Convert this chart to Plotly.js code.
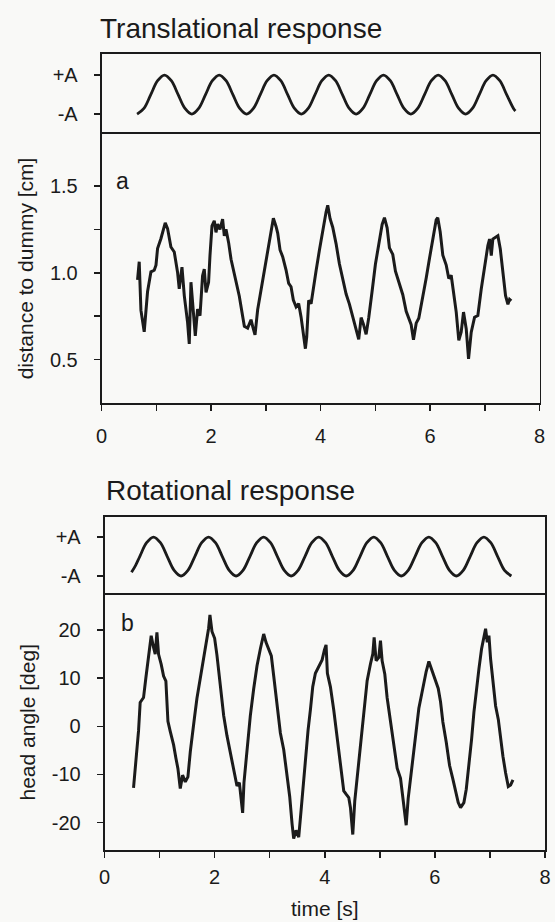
<!DOCTYPE html>
<html><head><meta charset="utf-8">
<script src="https://cdn.plot.ly/plotly-3.0.1.min.js"></script>
<style>html,body{margin:0;padding:0;background:#f9f9f7}#chart{width:555px;height:922px}</style>
</head><body><div id="chart"></div>
<script>
// ---- stimulus (translational) ----
const stimTimeA = [0.65,0.775,0.9,1.025,1.15,1.275,1.4,1.525,
  1.65,1.775,1.9,2.025,2.15,2.275,2.4,2.525,
  2.65,2.775,2.9,3.025,3.15,3.275,3.4,3.525,
  3.65,3.775,3.9,4.025,4.15,4.275,4.4,4.525,
  4.65,4.775,4.9,5.025,5.15,5.275,5.4,5.525,
  5.65,5.775,5.9,6.025,6.15,6.275,6.4,6.525,
  6.65,6.775,6.9,7.025,7.15,7.275,7.4,7.525,7.56];
const stimValA = [-1,-0.71,0,0.71,1,0.71,0,-0.71,
  -1,-0.71,0,0.71,1,0.71,0,-0.71,
  -1,-0.71,0,0.71,1,0.71,0,-0.71,
  -1,-0.71,0,0.71,1,0.71,0,-0.71,
  -1,-0.71,0,0.71,1,0.71,0,-0.71,
  -1,-0.71,0,0.71,1,0.71,0,-0.71,
  -1,-0.71,0,0.71,1,0.71,0,-0.71,-0.84];

// ---- response a: distance to dummy [cm] ----
const timeA = [0.658,0.689,0.720,0.780,0.841,0.903,0.963,0.995,1.024,1.086,
  1.164,1.207,1.268,1.329,1.389,1.420,1.470,1.512,1.572,1.603,
  1.634,1.676,1.713,1.755,1.799,1.846,1.877,1.909,1.956,1.981,
  2.018,2.060,2.091,2.121,2.164,2.212,2.243,2.274,2.322,2.366,
  2.408,2.457,2.517,2.578,2.609,2.669,2.731,2.761,2.804,2.852,
  2.914,2.974,3.035,3.097,3.139,3.188,3.218,3.261,3.309,3.371,
  3.419,3.462,3.504,3.554,3.601,3.645,3.687,3.724,3.748,3.784,
  3.828,3.870,3.920,3.980,4.041,4.102,4.132,4.175,4.223,4.285,
  4.345,4.406,4.468,4.528,4.589,4.651,4.698,4.742,4.784,4.833,
  4.881,4.943,5.003,5.064,5.126,5.168,5.217,5.259,5.320,5.369,
  5.430,5.503,5.565,5.613,5.656,5.698,5.748,5.795,5.868,5.930,
  5.991,6.051,6.113,6.142,6.186,6.234,6.296,6.343,6.387,6.429,
  6.479,6.526,6.570,6.612,6.662,6.704,6.753,6.814,6.874,6.936,
  6.996,7.057,7.088,7.119,7.148,7.198,7.240,7.284,7.331,7.380,
  7.423,7.453,7.484];
const distA = [0.959,1.064,0.785,0.660,0.891,1.006,1.015,1.044,1.140,1.198,
  1.288,1.255,1.149,1.120,1.004,0.908,1.033,0.869,0.715,0.590,
  0.946,0.753,0.637,0.791,0.753,0.983,1.022,0.887,0.945,1.098,
  1.271,1.300,1.233,1.281,1.251,1.309,1.213,1.251,1.174,1.078,
  1.020,0.962,0.865,0.750,0.692,0.682,0.730,0.691,0.643,0.787,
  0.903,1.018,1.133,1.248,1.315,1.267,1.229,1.132,1.093,1.016,
  0.939,0.920,0.843,0.804,0.823,0.746,0.650,0.563,0.630,0.842,
  0.822,0.918,1.014,1.130,1.245,1.350,1.389,1.312,1.263,1.167,
  1.052,0.974,0.878,0.820,0.752,0.685,0.617,0.742,0.704,0.646,
  0.741,0.895,1.049,1.164,1.279,1.318,1.259,1.144,1.106,1.009,
  0.951,0.874,0.778,0.730,0.701,0.614,0.710,0.738,0.853,0.969,
  1.084,1.199,1.305,1.318,1.237,1.102,1.045,0.967,0.986,0.890,
  0.774,0.611,0.659,0.774,0.677,0.504,0.658,0.744,0.754,0.907,
  1.042,1.157,1.195,1.099,1.195,1.205,1.214,1.137,1.002,0.868,
  0.819,0.847,0.838];

// ---- stimulus (rotational) ----
const stimTimeB = [0.49,0.565,
  0.64,0.765,0.89,1.015,1.14,1.265,1.39,1.515,
  1.64,1.765,1.89,2.015,2.14,2.265,2.39,2.515,
  2.64,2.765,2.89,3.015,3.14,3.265,3.39,3.515,
  3.64,3.765,3.89,4.015,4.14,4.265,4.39,4.515,
  4.64,4.765,4.89,5.015,5.14,5.265,5.39,5.515,
  5.64,5.765,5.89,6.015,6.14,6.265,6.39,6.515,
  6.64,6.765,6.89,7.015,7.14,7.265,7.39];
const stimValB = [-0.81,-0.45,
  0,0.71,1,0.71,0,-0.71,-1,-0.71,
  0,0.71,1,0.71,0,-0.71,-1,-0.71,
  0,0.71,1,0.71,0,-0.71,-1,-0.71,
  0,0.71,1,0.71,0,-0.71,-1,-0.71,
  0,0.71,1,0.71,0,-0.71,-1,-0.71,
  0,0.71,1,0.71,0,-0.71,-1,-0.71,
  0,0.71,1,0.71,0,-0.71,-1];

// ---- response b: head angle [deg] ----
const timeB = [0.527,0.570,0.618,0.648,0.709,0.752,0.800,0.848,0.891,0.921,
  0.952,0.982,1.030,1.073,1.115,1.152,1.194,1.255,1.297,1.333,
  1.376,1.418,1.467,1.515,1.558,1.600,1.636,1.679,1.739,1.800,
  1.842,1.891,1.915,1.952,2.000,2.042,2.103,2.164,2.224,2.285,
  2.345,2.406,2.449,2.485,2.509,2.533,2.569,2.606,2.648,2.709,
  2.770,2.830,2.891,2.933,2.982,3.030,3.073,3.133,3.194,3.255,
  3.315,3.364,3.406,3.436,3.479,3.527,3.576,3.618,3.661,3.697,
  3.739,3.782,3.830,3.891,3.952,3.994,4.024,4.048,4.103,4.164,
  4.206,4.255,4.303,4.345,4.388,4.436,4.467,4.509,4.545,4.588,
  4.630,4.679,4.727,4.770,4.830,4.873,4.897,4.933,4.982,5.012,
  5.042,5.091,5.133,5.194,5.255,5.315,5.376,5.418,5.455,5.479,
  5.515,5.558,5.600,5.648,5.709,5.758,5.800,5.842,5.891,5.952,
  6.012,6.061,6.103,6.145,6.206,6.267,6.327,6.376,6.424,6.467,
  6.527,6.570,6.618,6.667,6.709,6.752,6.800,6.848,6.891,6.921,
  6.952,6.982,7.012,7.055,7.103,7.152,7.194,7.236,7.285,7.333,
  7.376,7.418];
const angleB = [-12.78,-7.22,-0.96,4.95,5.98,10.15,14.32,18.84,16.39,14.99,
  19.51,14.98,12.88,10.45,9.40,1.04,-1.05,-3.86,-6.64,-8.74,
  -12.92,-10.15,-11.54,-10.50,-5.28,-1.83,2.00,5.82,9.98,14.51,
  17.62,20.40,23.17,19.71,18.29,14.80,8.54,2.25,-1.93,-5.41,
  -8.20,-12.40,-11.69,-15.89,-17.97,-11.71,-7.54,-1.98,2.17,7.75,
  12.59,16.08,19.19,17.45,16.05,14.63,10.46,4.89,-1.38,-4.88,
  -10.46,-14.64,-20.21,-23.35,-21.61,-23.02,-16.76,-11.20,-4.94,-0.77,
  3.39,8.25,11.04,12.41,13.80,15.88,16.92,11.00,8.20,3.33,
  -0.86,-5.04,-9.22,-13.41,-14.11,-14.81,-16.91,-22.48,-15.53,-10.66,
  -5.79,-0.24,4.62,9.49,12.96,15.04,18.51,13.64,14.33,17.80,
  13.62,10.83,5.95,1.07,-3.12,-8.70,-10.79,-14.98,-19.16,-20.55,
  -15.00,-10.83,-5.95,-1.09,3.76,6.55,9.32,11.40,13.48,11.38,
  9.28,7.88,5.09,0.91,-3.27,-8.15,-10.95,-13.74,-15.84,-16.88,
  -15.85,-13.08,-8.21,-2.66,2.91,7.77,11.94,16.10,18.88,20.27,
  17.48,18.87,13.99,9.81,4.24,1.44,-2.75,-6.22,-9.71,-12.50,
  -12.17,-11.13];

// ---- tick labels ----
const timeTicks = [0,1,2,3,4,5,6,7,8];
const timeTickText = ['0','','2','','4','','6','','8'];
const stimTicks = [-1,1];
const stimTickText = ['-A','+A'];
const distTicks = [0.5,0.75,1.0,1.25,1.5];
const distTickText = ['0.5','','1.0','','1.5'];
const angleTicks = [-20,-10,0,10,20];
const angleTickText = ['-20','-10','0','10','20'];

const W = 555, H = 922;
const INK = '#1b1b1b';
const FONT = 'Liberation Sans, Arial, Helvetica, sans-serif';
const px = v => v / W;
const py = v => 1 - v / H;

const lineStyle = {color: INK, width: 3};
const stimStyle = {color: INK, width: 2.8, shape: 'spline'};
const traces = [
  {x: stimTimeA, y: stimValA, xaxis: 'x', yaxis: 'y', mode: 'lines', line: stimStyle},
  {x: timeA, y: distA, xaxis: 'x2', yaxis: 'y2', mode: 'lines', line: lineStyle},
  {x: stimTimeB, y: stimValB, xaxis: 'x3', yaxis: 'y3', mode: 'lines', line: stimStyle},
  {x: timeB, y: angleB, xaxis: 'x4', yaxis: 'y4', mode: 'lines', line: lineStyle}
];

const axBase = {showline: true, mirror: true, linecolor: INK, linewidth: 1.8, showgrid: false, zeroline: false,
  tickfont: {family: FONT, size: 20, color: INK}, tickcolor: INK, tickwidth: 1.5};

const xdomA = [px(101.5), px(539.5)];
const xdomB = [px(104.5), px(545)];

const layout = {
  width: W, height: H,
  margin: {l: 0, r: 0, t: 0, b: 0},
  paper_bgcolor: '#f9f9f7', plot_bgcolor: '#f9f9f7',
  showlegend: false,
  font: {family: FONT, color: INK},
  title: {text: 'Translational response', x: px(100), xanchor: 'left', xref: 'paper',
          y: py(28), yanchor: 'middle', yref: 'container', font: {family: FONT, size: 28, color: INK}},
  // stimulus boxes: x axis drawn on top only; the separator comes from the response box frame
  xaxis: Object.assign({}, axBase, {domain: xdomA, anchor: 'y', side: 'top', mirror: false, range: [0, 8], showticklabels: false, ticks: ''}),
  yaxis: Object.assign({}, axBase, {domain: [py(134), py(54)], anchor: 'x', range: [-2.02, 2.08],
          tickvals: stimTicks, ticktext: stimTickText, ticks: 'outside', ticklen: 6, ticklabelstandoff: 12}),
  xaxis2: Object.assign({}, axBase, {domain: xdomA, anchor: 'y2', range: [0, 8],
          tickvals: timeTicks, ticktext: timeTickText, ticks: 'outside', ticklen: 6, ticklabelstandoff: 8}),
  yaxis2: Object.assign({}, axBase, {domain: [py(403), py(134)], anchor: 'x2', range: [0.25, 1.8],
          tickvals: distTicks, ticktext: distTickText, ticks: 'outside', ticklen: 6, ticklabelstandoff: 12,
          title: {text: 'distance to dummy [cm]', font: {family: FONT, size: 21, color: INK}, standoff: 10}}),
  xaxis3: Object.assign({}, axBase, {domain: xdomB, anchor: 'y3', side: 'top', mirror: false, range: [0, 8], showticklabels: false, ticks: ''}),
  yaxis3: Object.assign({}, axBase, {domain: [py(594.5), py(517)], anchor: 'x3', range: [-1.95, 2.03],
          tickvals: stimTicks, ticktext: stimTickText, ticks: 'outside', ticklen: 6, ticklabelstandoff: 12}),
  xaxis4: Object.assign({}, axBase, {domain: xdomB, anchor: 'y4', range: [0, 8],
          tickvals: timeTicks, ticktext: timeTickText, ticks: 'outside', ticklen: 6, ticklabelstandoff: 2,
          title: {text: 'time [s]', font: {family: FONT, size: 21, color: INK}, standoff: 14}}),
  yaxis4: Object.assign({}, axBase, {domain: [py(850), py(594.5)], anchor: 'x4', range: [-25.7, 27.4],
          tickvals: angleTicks, ticktext: angleTickText, ticks: 'outside', ticklen: 6, ticklabelstandoff: 12,
          title: {text: 'head angle [deg]', font: {family: FONT, size: 21, color: INK}, standoff: 10}}),
  annotations: [
    {text: 'Rotational response', xref: 'paper', yref: 'paper', x: px(104), y: py(490),
     xanchor: 'left', yanchor: 'middle', showarrow: false, font: {family: FONT, size: 28, color: INK}},
    {text: 'a', xref: 'paper', yref: 'paper', x: px(122), y: py(181), xanchor: 'center', yanchor: 'middle',
     showarrow: false, font: {family: FONT, size: 23, color: INK}},
    {text: 'b', xref: 'paper', yref: 'paper', x: px(127.5), y: py(623), xanchor: 'center', yanchor: 'middle',
     showarrow: false, font: {family: FONT, size: 23, color: INK}}
  ]
};

Plotly.newPlot('chart', traces, layout, {staticPlot: true, displayModeBar: false});
</script>
</body></html>
